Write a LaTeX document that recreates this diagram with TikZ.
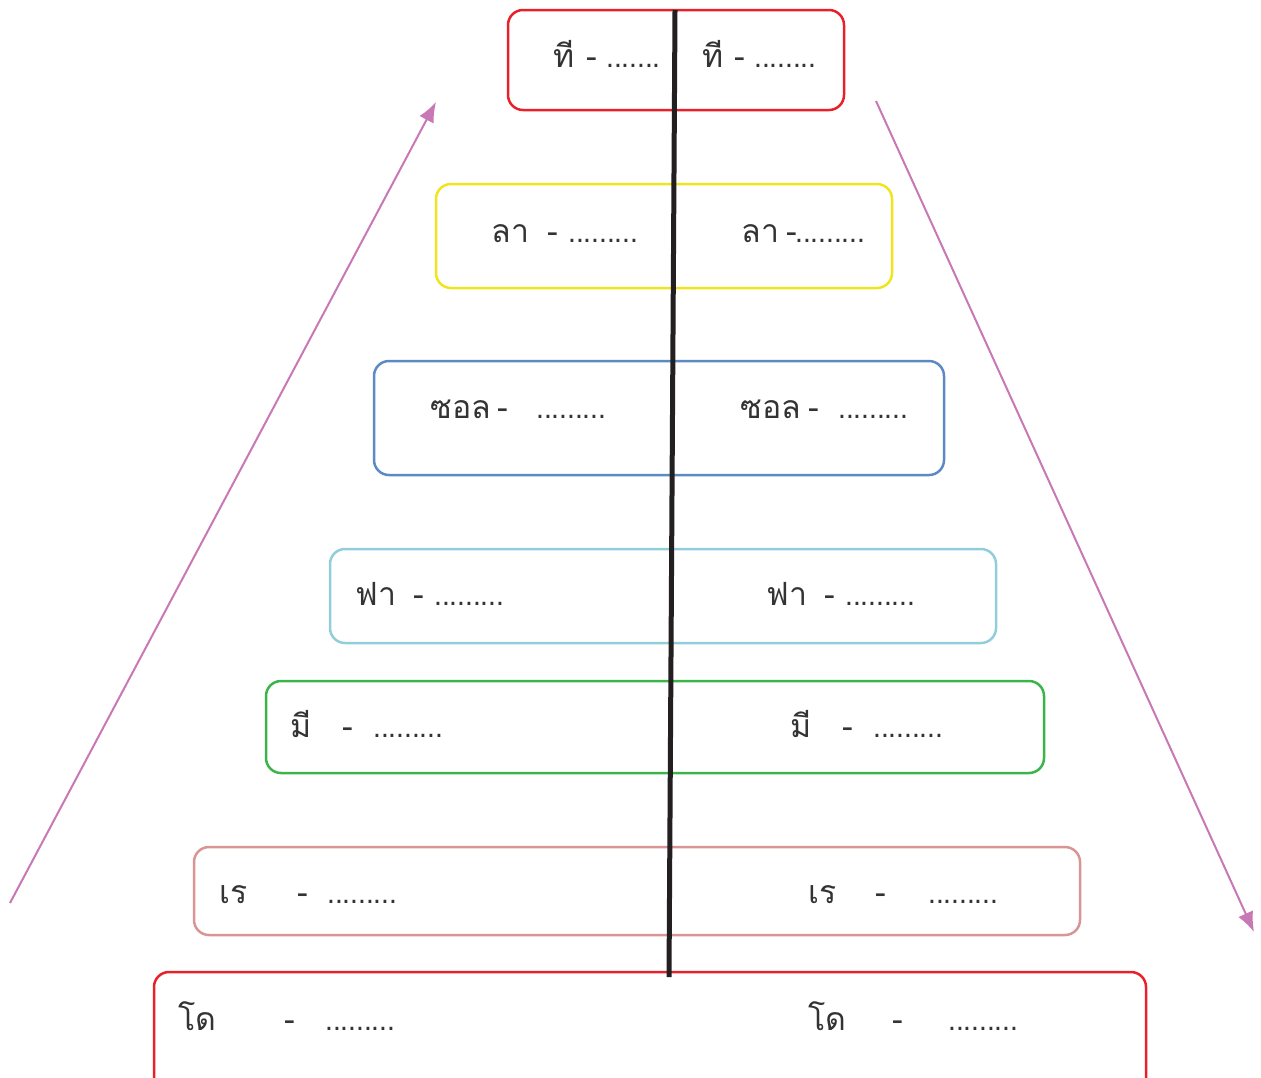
\documentclass[tikz,border=0pt]{standalone}
\usepackage{fontspec}
\usepackage{graphicx}
\newfontfamily\thaifont[Script=Thai]{Loma}
\usetikzlibrary{arrows.meta}
\definecolor{cred}{HTML}{E8202A}
\definecolor{cyel}{HTML}{F0E41C}
\definecolor{cblue}{HTML}{5B8AC6}
\definecolor{clblue}{HTML}{92CDDC}
\definecolor{cgreen}{HTML}{3BB44A}
\definecolor{cpink}{HTML}{D99594}
\definecolor{carrow}{HTML}{C878B4}
\definecolor{ctext}{HTML}{333333}
\definecolor{cline}{HTML}{231F20}
\tikzset{
  tbox/.style={draw=#1, line width=1.25pt, rounded corners=7.5pt, inner sep=0pt, fill=none},
  ttext/.style={anchor=base west, inner sep=0pt, text=ctext, font=\thaifont\fontsize{16}{19}\selectfont},
  parrow/.style={draw=carrow, line width=1pt, -{Latex[length=10pt,width=8pt]}},
}
\begin{document}
\begin{tikzpicture}[x=0.5pt,y=-0.5pt]
\useasboundingbox (0,0) rectangle (1261,1077);
\clip (0,0) rectangle (1261,1077);
% boxes
\node[tbox=cred, minimum width=168pt, minimum height=50pt] (b1) at (676,60) {};
\node[tbox=cyel, minimum width=228pt, minimum height=52pt] (b2) at (664,236) {};
\node[tbox=cblue, minimum width=285pt, minimum height=57pt] (b3) at (659,418) {};
\node[tbox=clblue, minimum width=333pt, minimum height=47pt] (b4) at (663,596) {};
\node[tbox=cgreen, minimum width=389pt, minimum height=46pt] (b5) at (655,727) {};
\node[tbox=cpink, minimum width=443pt, minimum height=44pt] (b6) at (637,891) {};
\node[tbox=cred, minimum width=496pt, minimum height=64pt] (b7) at (650,1036) {};
% central line
\coordinate (ctop) at (675,10);
\coordinate (cbot) at (669,977);
\draw[cline, line width=2.5pt] (ctop) -- (cbot);
% arrows
\coordinate (la) at (10,903);
\coordinate (lb) at (436,102);
\coordinate (ra) at (876,101);
\coordinate (rb) at (1254,932);
\draw[parrow] (la) -- (lb);
\draw[parrow] (ra) -- (rb);
% labels: word / dash / dots, left and right
\foreach \i/\w/\y/\xa/\xb/\xc/\xd/\xe/\xf/\dl/\dr in {
  1/ที/67/553/586/606/702/734/754/{.......}/{........},
  2/ลา/242/491/547/568/741/786/795/{.........}/{.........},
  3/ซอล/418/430/497/536/740/808/838/{.........}/{.........},
  4/ฟา/605/355/413/434/766/824/845/{.........}/{.........},
  5/มี/737/290/342/373/790/842/873/{.........}/{.........},
  6/เร/903/219/297/327/808/875/928/{.........}/{.........},
  7/โด/1030/178/284/325/808/892/948/{.........}/{.........}} {
  \node[ttext] (wl\i) at (\xa,\y) {\w};
  \node[ttext] (hl\i) at (\xb,\y) {-};
  \node[ttext] (dl\i) at (\xc,\y) {\scalebox{0.87}[1]{\dl}};
  \node[ttext] (wr\i) at (\xd,\y) {\w};
  \node[ttext] (hr\i) at (\xe,\y) {-};
  \node[ttext] (dr\i) at (\xf,\y) {\scalebox{0.87}[1]{\dr}};
}
\end{tikzpicture}
\end{document}
